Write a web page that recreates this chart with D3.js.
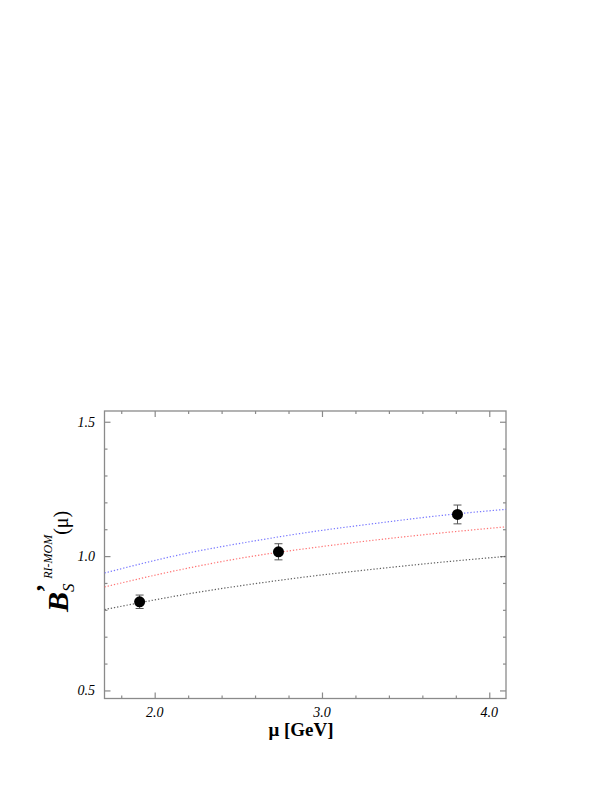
<!DOCTYPE html>
<html><head><meta charset="utf-8">
<script src="https://cdn.jsdelivr.net/npm/d3@7"></script>
<style>body{margin:0;background:#fff}svg{display:block}</style>
</head><body>
<svg id="c" width="610" height="790"></svg>
<script>
// data
const muGrid = [1.70, 2.00, 2.15, 2.63, 2.87, 3.35, 3.71, 4.10];
const curveBlack = [0.801, 0.837, 0.854, 0.900, 0.920, 0.954, 0.977, 0.999];
const muGridC = [1.70, 2.15, 2.63, 2.87, 3.35, 3.71, 4.10];
const curveBlue = [0.937, 1.005, 1.060, 1.084, 1.124, 1.151, 1.174];
const curveRed = [0.885, 0.949, 1.004, 1.025, 1.062, 1.086, 1.109];
const pointMu = [1.91, 2.74, 3.81];
const pointB = [0.830, 1.016, 1.155];
const pointErr = [0.025, 0.030, 0.035];
const xMajor = [2.0, 3.0, 4.0];
const xMajorLabels = ["2.0", "3.0", "4.0"];
const xMinor = [1.8, 2.2, 2.4, 2.6, 2.8, 3.2, 3.4, 3.6, 3.8];
const yMajor = [0.5, 1.0, 1.5];
const yMajorLabels = ["0.5", "1.0", "1.5"];
const yMinor = [0.6, 0.7, 0.8, 0.9, 1.1, 1.2, 1.3, 1.4];

const svg = d3.select("#c");
const L = 104.5, R = 506, T = 411, B = 698.5;
const x = d3.scaleLinear().domain([1.7, 4.1]).range([L, R]);
const y = d3.scaleLinear().domain([0.47, 1.54]).range([B, T]);
const axisCol = "#8a8a8a";
const serif = "'Liberation Serif','Times New Roman',serif";

// frame
svg.append("rect").attr("x", L).attr("y", T).attr("width", R - L).attr("height", B - T)
  .attr("fill", "none").attr("stroke", axisCol).attr("stroke-width", 1.3);

// ticks via axes (inward)
function addAxis(axisFn, scale, vals, len, transform) {
  const g = svg.append("g").attr("transform", transform)
    .call(axisFn(scale).tickValues(vals).tickSize(len).tickFormat(""));
  g.select(".domain").remove();
  g.selectAll("line").attr("stroke", axisCol).attr("stroke-width", 1.2);
}
addAxis(d3.axisTop, x, xMajor, 6, `translate(0,${B})`);
addAxis(d3.axisTop, x, xMinor, 3, `translate(0,${B})`);
addAxis(d3.axisBottom, x, xMajor, 6, `translate(0,${T})`);
addAxis(d3.axisBottom, x, xMinor, 3, `translate(0,${T})`);
addAxis(d3.axisRight, y, yMajor, 6, `translate(${L},0)`);
addAxis(d3.axisRight, y, yMinor, 3, `translate(${L},0)`);
addAxis(d3.axisLeft, y, yMajor, 6, `translate(${R},0)`);
addAxis(d3.axisLeft, y, yMinor, 3, `translate(${R},0)`);

// tick labels
svg.append("g").selectAll("text").data(xMajor).join("text")
  .attr("x", d => x(d)).attr("y", 716.5).attr("text-anchor", "middle")
  .attr("font-family", serif).attr("font-style", "italic").attr("font-size", 14)
  .text((d, i) => xMajorLabels[i]);
svg.append("g").selectAll("text").data(yMajor).join("text")
  .attr("x", 95).attr("y", d => y(d) + 5).attr("text-anchor", "end")
  .attr("font-family", serif).attr("font-style", "italic").attr("font-size", 14)
  .text((d, i) => yMajorLabels[i]);

// curves
svg.append("clipPath").attr("id", "pc").append("rect")
  .attr("x", L).attr("y", T).attr("width", R - L).attr("height", B - T);
const line = (xs) => d3.line().x((d, i) => x(xs[i])).y(d => y(d)).curve(d3.curveMonotoneX);
const curves = [
  {xs: muGridC, ys: curveBlue, c: "#7777ff"},
  {xs: muGridC, ys: curveRed, c: "#ff7373"},
  {xs: muGrid, ys: curveBlack, c: "#606060"}
];
curves.forEach(cv => {
  svg.append("path").attr("d", line(cv.xs)(cv.ys)).attr("fill", "none")
    .attr("stroke", cv.c).attr("stroke-width", 1.2).attr("stroke-dasharray", "1.3,1.9")
    .attr("clip-path", "url(#pc)");
});

// error bars
const eb = svg.append("g").attr("stroke", "#555").attr("stroke-width", 1);
pointMu.forEach((m, i) => {
  const cx = x(m), y1 = y(pointB[i] + pointErr[i]), y2 = y(pointB[i] - pointErr[i]);
  eb.append("line").attr("x1", cx).attr("x2", cx).attr("y1", y1).attr("y2", y2);
  eb.append("line").attr("x1", cx - 4).attr("x2", cx + 4).attr("y1", y1).attr("y2", y1);
  eb.append("line").attr("x1", cx - 4).attr("x2", cx + 4).attr("y1", y2).attr("y2", y2);
});
svg.append("g").selectAll("circle").data(pointMu).join("circle")
  .attr("cx", d => x(d)).attr("cy", (d, i) => y(pointB[i])).attr("r", 5.5).attr("fill", "#000");

// x label
svg.append("text").attr("x", 301).attr("y", 736).attr("text-anchor", "middle")
  .attr("font-family", serif).attr("font-weight", "bold").attr("font-size", 19)
  .text("μ [GeV]");

// y label
const yl = svg.append("text").attr("transform", "translate(68,612) rotate(-90)")
  .attr("font-family", serif);
yl.append("tspan").attr("font-weight", "bold").attr("font-style", "italic").attr("font-size", 30).text("B");
yl.append("tspan").attr("font-style", "italic").attr("font-size", 17).attr("dy", 6).text("S");
yl.append("tspan").attr("font-weight", "bold").attr("font-size", 26).attr("dx", -9).attr("dy", -20).text("’");
yl.append("tspan").attr("font-style", "italic").attr("font-size", 12).attr("dx", 5).attr("dy", -2).text("RI-MOM");
yl.append("tspan").attr("font-size", 20).attr("dy", 16).text("(μ)");
</script>
</body></html>
